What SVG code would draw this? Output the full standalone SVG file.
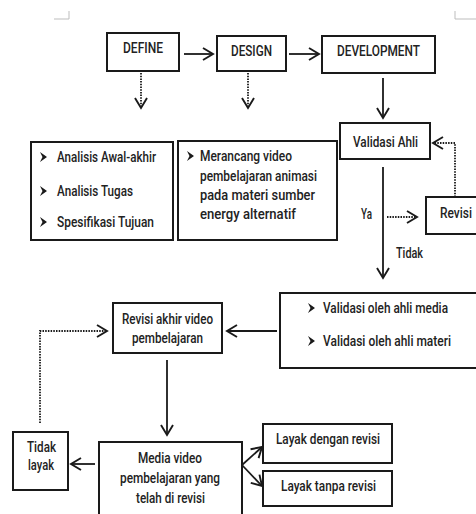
<svg xmlns="http://www.w3.org/2000/svg" xmlns:xlink="http://www.w3.org/1999/xlink" width="476" height="514" viewBox="0 0 476 514">
<style>
.box{fill:#fff;stroke:#1a1a1a;stroke-width:2}
.t{font-family:Roboto,"Liberation Sans",sans-serif;font-size:15px;font-weight:500;fill:#222}
.c{stroke:#1a1a1a;stroke-width:1.8;fill:none}
.d{stroke:#1a1a1a;stroke-width:1.8;fill:none;stroke-dasharray:1.5 1.2}
.mark{stroke:#bdbdbd;stroke-width:1;fill:none}
</style>
<defs>
<marker id="ah" markerUnits="userSpaceOnUse" markerWidth="14" markerHeight="14" refX="11" refY="7" orient="auto">
<path d="M1,1 L11,7 L1,13" fill="none" stroke="#1a1a1a" stroke-width="1.9"/>
</marker>
<polygon id="bul" points="0,-5 7,0 0,5 2.5,0" fill="#1a1a1a"/>
</defs>
<path class="mark" d="M69,11 V19 H54"/>
<path class="mark" d="M455,11 V19 H476"/>
<g id="connectors">
<line class="c" x1="184" y1="54" x2="213" y2="54" marker-end="url(#ah)"/>
<line class="c" x1="289" y1="54" x2="319" y2="54" marker-end="url(#ah)"/>
<line class="d" x1="141" y1="73" x2="141" y2="108" marker-end="url(#ah)"/>
<line class="d" x1="248" y1="73" x2="248" y2="108" marker-end="url(#ah)"/>
<line class="c" x1="383" y1="78" x2="383" y2="118" marker-end="url(#ah)"/>
<line class="c" x1="383" y1="167" x2="383" y2="278" marker-end="url(#ah)"/>
<line class="d" x1="387" y1="217" x2="417" y2="217" marker-end="url(#ah)"/>
<polyline class="d" points="455,197 455,143 433,143" marker-end="url(#ah)"/>
<line class="c" x1="277" y1="331" x2="227" y2="331" marker-end="url(#ah)"/>
<polyline class="d" points="40,423 40,331 107,331" marker-end="url(#ah)"/>
<line class="c" x1="167" y1="360" x2="167" y2="435" marker-end="url(#ah)"/>
<line class="c" x1="95" y1="464" x2="71" y2="464" marker-end="url(#ah)"/>
<line class="c" x1="242" y1="465" x2="262" y2="447" marker-end="url(#ah)"/>
<line class="c" x1="242" y1="465" x2="262" y2="486" marker-end="url(#ah)"/>
</g>
<g id="define"><rect class="box" x="107" y="33" width="72" height="38"/><text class="t" x="123" y="53" textLength="40" lengthAdjust="spacingAndGlyphs">DEFINE</text></g>
<g id="design"><rect class="box" x="217" y="36" width="69" height="35"/><text class="t" x="231" y="56" textLength="41" lengthAdjust="spacingAndGlyphs">DESIGN</text></g>
<g id="development"><rect class="box" x="322" y="36" width="113" height="37"/><text class="t" x="337" y="56" textLength="83" lengthAdjust="spacingAndGlyphs">DEVELOPMENT</text></g>
<g id="validasi-ahli"><rect class="box" x="340" y="123" width="90" height="36"/><text class="t" x="353" y="147" textLength="65" lengthAdjust="spacingAndGlyphs">Validasi Ahli</text></g>
<g id="define-list"><rect class="box" x="31" y="142" width="142" height="98"/>
<use xlink:href="#bul" x="40" y="157"/><text class="t" x="57" y="162" textLength="99" lengthAdjust="spacingAndGlyphs">Analisis Awal-akhir</text>
<use xlink:href="#bul" x="40" y="191"/><text class="t" x="57" y="196" textLength="76" lengthAdjust="spacingAndGlyphs">Analisis Tugas</text>
<use xlink:href="#bul" x="40" y="222"/><text class="t" x="57" y="227" textLength="97" lengthAdjust="spacingAndGlyphs">Spesifikasi Tujuan</text>
</g>
<g id="design-list"><rect class="box" x="178" y="141" width="159" height="99"/>
<use xlink:href="#bul" x="187" y="156"/>
<text class="t" x="200" y="161" textLength="92" lengthAdjust="spacingAndGlyphs">Merancang video</text>
<text class="t" x="200" y="181" textLength="117" lengthAdjust="spacingAndGlyphs">pembelajaran animasi</text>
<text class="t" x="200" y="200" textLength="115" lengthAdjust="spacingAndGlyphs">pada materi sumber</text>
<text class="t" x="200" y="219" textLength="96" lengthAdjust="spacingAndGlyphs">energy alternatif</text>
</g>
<g id="revisi"><rect class="box" x="426" y="197" width="60" height="37"/><text class="t" x="440" y="218" textLength="32" lengthAdjust="spacingAndGlyphs">Revisi</text></g>
<g id="labels">
<text class="t" x="361" y="219" textLength="11" lengthAdjust="spacingAndGlyphs">Ya</text>
<text class="t" x="396" y="258" textLength="27" lengthAdjust="spacingAndGlyphs">Tidak</text>
</g>
<g id="validasi-oleh"><rect class="box" x="280" y="293" width="206" height="75"/>
<use xlink:href="#bul" x="308" y="308"/><text class="t" x="323" y="313" textLength="125" lengthAdjust="spacingAndGlyphs">Validasi oleh ahli media</text>
<use xlink:href="#bul" x="308" y="341"/><text class="t" x="323" y="346" textLength="128" lengthAdjust="spacingAndGlyphs">Validasi oleh ahli materi</text>
</g>
<g id="revisi-akhir"><rect class="box" x="113" y="303" width="109" height="50"/>
<text class="t" x="122" y="324" textLength="91" lengthAdjust="spacingAndGlyphs">Revisi akhir video</text>
<text class="t" x="132" y="343" textLength="71" lengthAdjust="spacingAndGlyphs">pembelajaran</text>
</g>
<g id="tidak-layak"><rect class="box" x="13" y="432" width="55" height="58"/>
<text class="t" x="27" y="452" textLength="29" lengthAdjust="spacingAndGlyphs">Tidak</text>
<text class="t" x="28" y="470" textLength="26" lengthAdjust="spacingAndGlyphs">layak</text>
</g>
<g id="media"><rect class="box" x="99" y="442" width="143" height="80"/>
<text class="t" x="138" y="463" textLength="64" lengthAdjust="spacingAndGlyphs">Media video</text>
<text class="t" x="120" y="483" textLength="100" lengthAdjust="spacingAndGlyphs">pembelajaran yang</text>
<text class="t" x="136" y="503" textLength="69" lengthAdjust="spacingAndGlyphs">telah di revisi</text>
</g>
<g id="layak-dengan"><rect class="box" x="263" y="424" width="129" height="39"/><text class="t" x="276" y="444" textLength="104" lengthAdjust="spacingAndGlyphs">Layak dengan revisi</text></g>
<g id="layak-tanpa"><rect class="box" x="263" y="471" width="129" height="35"/><text class="t" x="281" y="491" textLength="95" lengthAdjust="spacingAndGlyphs">Layak tanpa revisi</text></g>
</svg>
